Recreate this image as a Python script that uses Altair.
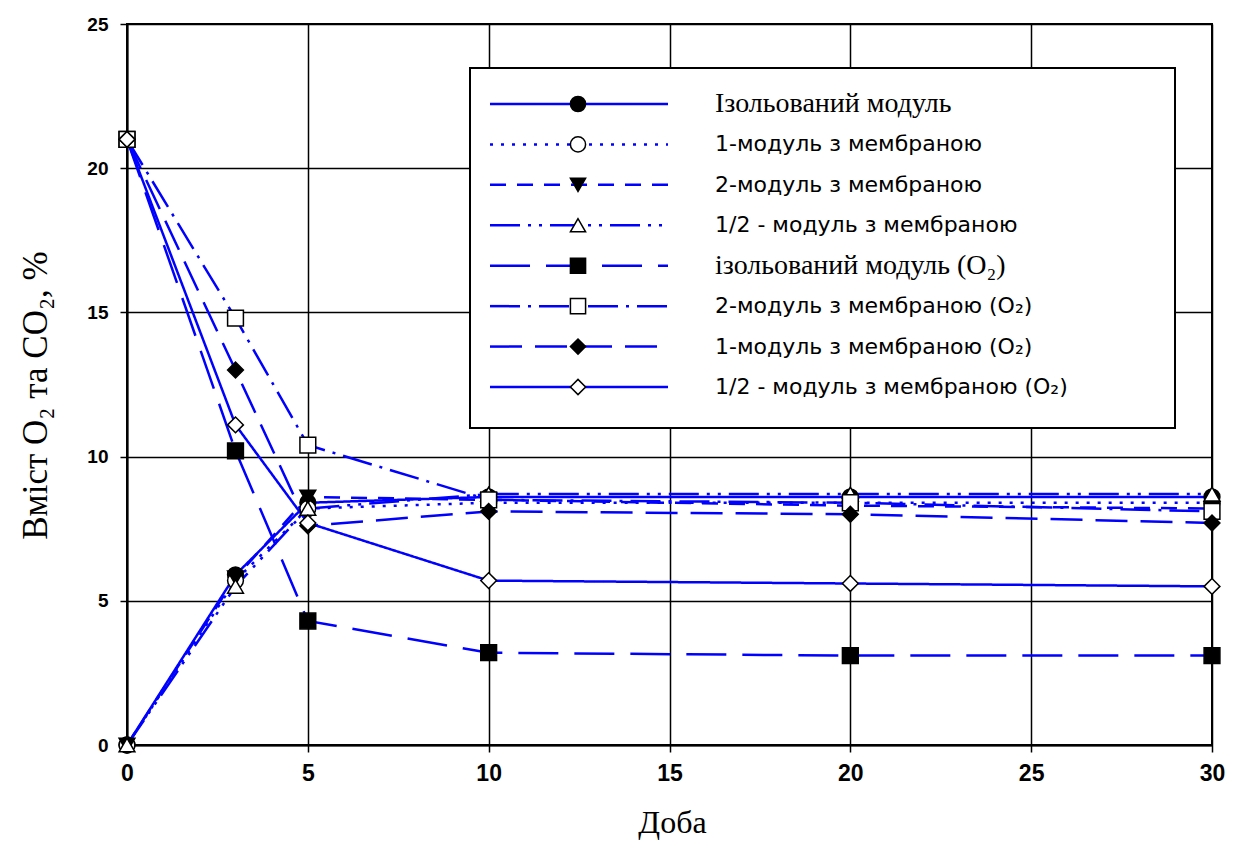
import altair as alt
import pandas as pd

days = [0, 3, 5, 10, 20, 30]

series_names = [
    "Ізольований модуль",
    "1-модуль з мембраною",
    "2-модуль з мембраною",
    "1/2 - модуль з мембраною",
    "ізольований модуль (O₂)",
    "2-модуль з мембраною (O₂)",
    "1-модуль з мембраною (O₂)",
    "1/2 - модуль з мембраною (O₂)",
]

iso_co2 = [0, 5.9, 8.4, 8.6, 8.6, 8.6]
m1_co2 = [0, 5.7, 8.2, 8.4, 8.4, 8.4]
m2_co2 = [0, 5.8, 8.6, 8.5, 8.3, 8.2]
m12_co2 = [0, 5.5, 8.2, 8.7, 8.7, 8.7]
iso_o2 = [21, 10.2, 4.3, 3.2, 3.1, 3.1]
m2_o2 = [21, 14.8, 10.4, 8.5, 8.4, 8.1]
m1_o2 = [21, 13.0, 7.6, 8.1, 8.0, 7.7]
m12_o2 = [21, 11.1, 7.7, 5.7, 5.6, 5.5]

series_values = [iso_co2, m1_co2, m2_co2, m12_co2, iso_o2, m2_o2, m1_o2, m12_o2]

dashes = [[1, 0], [3, 8], [16, 11], [30, 8, 3, 8, 3, 8], [40, 16], [30, 8, 3, 8], [32, 13], [1, 0]]
shapes = ["circle", "circle", "triangle-down", "triangle-up", "square", "square", "diamond", "diamond"]
fills = ["black", "white", "black", "white", "black", "white", "black", "white"]
serif_rows = [True, False, False, False, True, False, False, False]

rows = []
for name, vals in zip(series_names, series_values):
    for d, v in zip(days, vals):
        rows.append({"series": name, "day": d, "value": v})
df = pd.DataFrame(rows)
leg = pd.DataFrame({"series": series_names, "serif": serif_rows})

BLUE = "#0000FF"
dash_scale = alt.Scale(domain=series_names, range=dashes)
shape_scale = alt.Scale(domain=series_names, range=shapes)
fill_scale = alt.Scale(domain=series_names, range=fills)

x_enc = alt.X(
    "day:Q",
    title="Доба",
    scale=alt.Scale(domain=[0, 30], nice=False),
    axis=alt.Axis(
        values=[0, 5, 10, 15, 20, 25, 30],
        labelFont="Liberation Sans Narrow, Liberation Sans",
        labelFontSize=23,
        labelFontWeight="bold",
        labelFlush=False,
        labelPadding=10,
        titleFont="Liberation Serif",
        titleFontSize=32,
        titleFontWeight="normal",
        titleX=545,
        titleY=77,
        titleBaseline="middle",
        titleAlign="center",
    ),
)
y_enc = alt.Y(
    "value:Q",
    title="Вміст O₂ та CO₂, %",
    scale=alt.Scale(domain=[0, 25], nice=False),
    axis=alt.Axis(
        values=[0, 5, 10, 15, 20, 25],
        labelFont="Liberation Sans",
        labelFontWeight="bold",
        labelFontSize=19,
        labelFlush=False,
        labelPadding=12,
        titleFont="Liberation Serif",
        titleFontSize=35,
        titleFontWeight="normal",
        titleX=-92,
        titleY=371,
        titleAngle=-90,
        titleBaseline="middle",
        titleAlign="center",
    ),
)

lines = alt.Chart(df).mark_line(color=BLUE, strokeWidth=2.5, interpolate="linear").encode(
    x=x_enc,
    y=y_enc,
    strokeDash=alt.StrokeDash("series:N", scale=dash_scale, legend=None),
    detail="series:N",
)
points = alt.Chart(df).mark_point(filled=True, size=250, stroke="black", strokeWidth=1.5, opacity=1).encode(
    x=x_enc,
    y=y_enc,
    shape=alt.Shape("series:N", scale=shape_scale, legend=None),
    fill=alt.Fill("series:N", scale=fill_scale, legend=None),
)
main = alt.layer(lines, points)

leg_y = alt.Y(
    "series:N",
    axis=None,
    sort=series_names,
    scale=alt.Scale(type="point", domain=series_names, range=[80, 363], padding=0),
)
leg_box = alt.Chart(pd.DataFrame({"a": [0]})).mark_rect(fill="white", stroke="black", strokeWidth=2).encode(
    x=alt.value(343), x2=alt.value(1048), y=alt.value(44), y2=alt.value(404)
)
leg_lines = alt.Chart(leg).mark_rule(color=BLUE, strokeWidth=2.5).encode(
    x=alt.value(363),
    x2=alt.value(541),
    y=leg_y,
    strokeDash=alt.StrokeDash("series:N", scale=dash_scale, legend=None),
)
leg_pts = alt.Chart(leg).mark_point(filled=True, size=230, stroke="black", strokeWidth=1.5, opacity=1).encode(
    x=alt.value(451),
    y=leg_y,
    shape=alt.Shape("series:N", scale=shape_scale, legend=None),
    fill=alt.Fill("series:N", scale=fill_scale, legend=None),
)
leg_text_serif = alt.Chart(leg).transform_filter("datum.serif").mark_text(
    align="left", baseline="middle", font="Liberation Serif", fontSize=28, color="black"
).encode(x=alt.value(588), y=leg_y, text="series:N")
leg_text_sans = alt.Chart(leg).transform_filter("!datum.serif").mark_text(
    align="left", baseline="middle", font="DejaVu Sans", fontSize=22, color="black"
).encode(x=alt.value(588), y=leg_y, text="series:N")

legend = alt.layer(leg_box, leg_lines, leg_pts, leg_text_serif, leg_text_sans)

chart = (
    alt.layer(main, legend)
    .resolve_scale(y="independent")
    .properties(
        width=1085,
        height=721,
        autosize=alt.AutoSizeParams(type="none"),
        padding={"left": 119, "top": 16, "right": 14, "bottom": 95},
    )
    .configure_view(stroke="black", strokeWidth=2)
    .configure_axis(
        gridColor="black",
        gridWidth=1.5,
        gridOpacity=1,
        domainColor="black",
        domainWidth=2,
        tickColor="black",
        tickSize=7,
        tickWidth=1.5,
        labelColor="black",
        titleColor="black",
    )
)

chart.save("out.html", embed_options={"renderer": "svg", "actions": False})
